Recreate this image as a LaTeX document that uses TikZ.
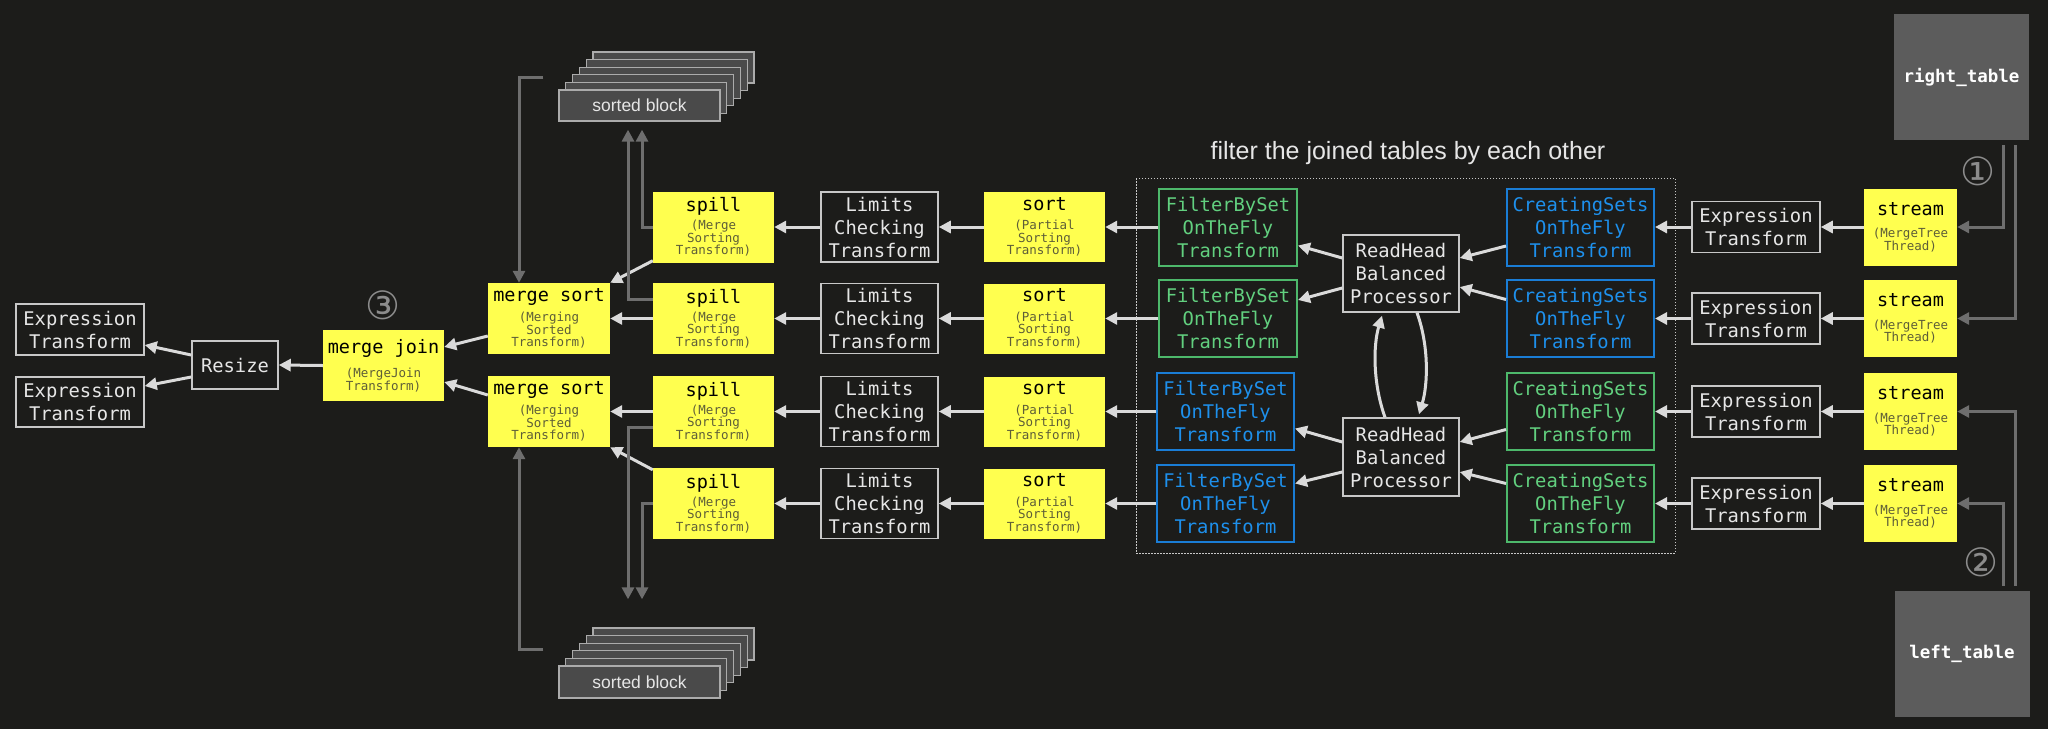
\documentclass[tikz,border=0pt]{standalone}
\usepackage{fontspec}
\setmainfont{Liberation Sans}
\newfontfamily\monof{DejaVu Sans Mono}
\newfontfamily\symf{DejaVu Sans}
\usetikzlibrary{arrows.meta,calc}

\definecolor{bg}{HTML}{1C1C1A}
\definecolor{ybox}{HTML}{FFFF4F}
\definecolor{subc}{HTML}{5E5E38}
\definecolor{wtext}{HTML}{E6E6E6}
\definecolor{wline}{HTML}{C8C8C8}
\definecolor{arrc}{HTML}{DADADA}
\definecolor{gline}{HTML}{6E6E6E}
\definecolor{gtxt}{HTML}{62D07F}
\definecolor{gbord}{HTML}{4DB86B}
\definecolor{btxt}{HTML}{1E90EC}
\definecolor{bbord}{HTML}{1A7DD6}
\definecolor{tblc}{HTML}{5C5C5C}
\definecolor{blkc}{HTML}{4A4A4A}
\definecolor{blkline}{HTML}{ABABAB}
\definecolor{numc}{HTML}{8C8C8C}

\newcommand\ytitle[1]{{\color{black}\fontsize{18.5}{18.5}\selectfont #1}}

\begin{document}
\begin{tikzpicture}[x=1pt,y=-1pt,
  wbox/.style={draw=wline, line width=1.5pt, fill=bg, text=wtext,
    font=\monof\fontsize{18.8}{23}\selectfont, align=center, inner sep=0pt},
  gbox/.style={wbox, draw=gbord, text=gtxt, line width=2pt},
  bbox/.style={wbox, draw=bbord, text=btxt, line width=2pt},
  yelbox/.style={fill=ybox, text=subc, font=\monof\fontsize{12.5}{12.5}\selectfont,
    align=center, inner sep=0pt},
  tblbox/.style={fill=tblc, text=white, font=\monof\bfseries\fontsize{17.5}{20}\selectfont,
    inner sep=0pt, minimum width=135pt, minimum height=126pt},
  blkbox/.style={fill=blkc, draw=blkline, line width=1.3pt, text=wtext,
    font=\fontsize{17.5}{20}\selectfont, inner sep=0pt, minimum width=161pt, minimum height=31pt},
  numst/.style={text=numc, font=\symf\fontsize{39}{39}\selectfont, inner sep=0pt},
  arrow/.style={draw=arrc, line width=3pt, -{Triangle[length=12pt,width=12pt]}},
  garrow/.style={draw=gline, line width=3pt, -{Triangle[length=12pt,width=12pt]}},
  frame/.style={draw=wline, line width=1pt, dash pattern=on 1.5pt off 1.5pt}
]
\fill[bg] (0,0) rectangle (2048,729);
\useasboundingbox (0,0) rectangle (2048,729);

\def\Ra{227}\def\Rb{318.5}\def\Rc{411.5}\def\Rd{503.5}

% left part
\node[wbox, minimum width=128pt, minimum height=51pt] (exl1) at (80,329.5) {Expression\\Transform};
\node[wbox, minimum width=128pt, minimum height=50pt] (exl2) at (80,402) {Expression\\Transform};
\node[wbox, minimum width=86pt, minimum height=48pt] (resize) at (235,365) {Resize};
\node[yelbox, minimum width=121pt, minimum height=71pt] (mj) at (383.5,365.5) {\ytitle{merge join}\\[10pt](MergeJoin\\Transform)};
\node[numst] (n3) at (383,305) {③};

\node[yelbox, minimum width=122pt, minimum height=71pt] (ms1) at (549,318.5) {\ytitle{merge sort}\\[6pt](Merging\\Sorted\\Transform)};
\node[yelbox, minimum width=122pt, minimum height=71pt] (ms2) at (549,411.5) {\ytitle{merge sort}\\[6pt](Merging\\Sorted\\Transform)};

\foreach \n/\r in {1/\Ra,2/\Rb,3/\Rc,4/\Rd}{
  \node[yelbox, minimum width=121pt, minimum height=71pt] (spill\n) at (713.5,\r) {\ytitle{spill}\\[4pt](Merge\\Sorting\\Transform)};
  \node[wbox, minimum width=117pt, minimum height=70pt] (lim\n) at (879.5,\r) {Limits\\Checking\\Transform};
  \node[yelbox, minimum width=121pt, minimum height=70pt] (sort\n) at (1044.5,\r) {\ytitle{sort}\\[7pt](Partial\\Sorting\\Transform)};
  \node[wbox, minimum width=128pt, minimum height=51pt] (exr\n) at (1756,\r) {Expression\\Transform};
  \node[yelbox, minimum width=93pt, minimum height=77pt] (st\n) at (1910.5,\r) {\ytitle{stream}\\[10pt](MergeTree\\Thread)};
}

% sorted block stacks
\foreach \i in {5,4,3,2,1}{
  \node[blkbox] at (639.5+6.8*\i,105.5-7.6*\i) {};
}
\node[blkbox] (sbt) at (639.5,105.5) {sorted block};
\foreach \i in {5,4,3,2,1}{
  \node[blkbox, minimum height=32pt] at (639.5+6.8*\i,682-7.6*\i) {};
}
\node[blkbox, minimum height=32pt] (sbb) at (639.5,682) {sorted block};

% filter region
\draw[frame] (1136,178) rectangle (1675,553);
\node[text=wtext, font=\fontsize{25}{28}\selectfont, inner sep=0pt] (ttl) at (1408,153) {filter the joined tables by each other};

\node[gbox, minimum width=138pt, minimum height=77pt] (filt1) at (1228,\Ra) {FilterBySet\\OnTheFly\\Transform};
\node[gbox, minimum width=138pt, minimum height=77pt] (filt2) at (1228,\Rb) {FilterBySet\\OnTheFly\\Transform};
\node[bbox, minimum width=137pt, minimum height=77pt] (filt3) at (1225.5,\Rc) {FilterBySet\\OnTheFly\\Transform};
\node[bbox, minimum width=137pt, minimum height=77pt] (filt4) at (1225.5,\Rd) {FilterBySet\\OnTheFly\\Transform};

\node[wbox, minimum width=116pt, minimum height=77pt] (rh1) at (1401,273.5) {ReadHead\\Balanced\\Processor};
\node[wbox, minimum width=116pt, minimum height=78pt] (rh2) at (1401,457) {ReadHead\\Balanced\\Processor};

\node[bbox, minimum width=147pt, minimum height=77pt] (cs1) at (1580.5,\Ra) {CreatingSets\\OnTheFly\\Transform};
\node[bbox, minimum width=147pt, minimum height=77pt] (cs2) at (1580.5,\Rb) {CreatingSets\\OnTheFly\\Transform};
\node[gbox, minimum width=147pt, minimum height=77pt] (cs3) at (1580.5,\Rc) {CreatingSets\\OnTheFly\\Transform};
\node[gbox, minimum width=147pt, minimum height=77pt] (cs4) at (1580.5,\Rd) {CreatingSets\\OnTheFly\\Transform};

% tables
\node[tblbox] (rt) at (1961.5,77) {right\_table};
\node[tblbox] (lt) at (1962,654) {left\_table};
\node[numst] (n1) at (1978,171) {①};
\node[numst] (n2) at (1981,562) {②};

% horizontal chains
\foreach \n in {1,2,3,4}{
  \draw[arrow] (st\n.west) -- (exr\n.east);
  \draw[arrow] (exr\n.west) -- (cs\n.east);
  \draw[arrow] (filt\n.west) -- (sort\n.east);
  \draw[arrow] (sort\n.west) -- (lim\n.east);
  \draw[arrow] (lim\n.west) -- (spill\n.east);
}

% readhead connections
\draw[arrow] ($(cs1.west)+(0,19)$) -- ($(rh1.east)+(0,-15.5)$);
\draw[arrow] ($(cs2.west)+(0,-19)$) -- ($(rh1.east)+(0,13.5)$);
\draw[arrow] ($(rh1.west)+(0,-15.5)$) -- ($(filt1.east)+(0,18.5)$);
\draw[arrow] ($(rh1.west)+(0,14.5)$) -- ($(filt2.east)+(0,-18.5)$);
\draw[arrow] ($(cs3.west)+(0,18)$) -- ($(rh2.east)+(0,-15)$);
\draw[arrow] ($(cs4.west)+(0,-20)$) -- ($(rh2.east)+(0,15)$);
\draw[arrow] ($(rh2.west)+(0,-15)$) -- ($(filt3.east)+(0,17)$);
\draw[arrow] ($(rh2.west)+(0,15)$) -- ($(filt4.east)+(0,-20)$);
\draw[arrow] ($(rh2.north)+(-16,0)$) .. controls ($(rh2.north)+(-28,-33)$) and ($(rh1.south)+(-28,33)$) .. ($(rh1.south)+(-19,3)$);
\draw[arrow] ($(rh1.south)+(16,0)$) .. controls ($(rh1.south)+(28,33)$) and ($(rh2.north)+(27,-33)$) .. ($(rh2.north)+(18,-3)$);

% merge part
\draw[arrow] ($(spill1.south west)+(0,-2)$) -- (ms1.north east);
\draw[arrow] (spill2.west) -- (ms1.east);
\draw[arrow] (spill3.west) -- (ms2.east);
\draw[arrow] ($(spill4.north west)+(0,2)$) -- (ms2.south east);
\draw[arrow] ($(ms1.west)+(0,17.5)$) -- ($(mj.east)+(0,-18.5)$);
\draw[arrow] ($(ms2.west)+(0,-16.5)$) -- ($(mj.east)+(0,16.5)$);
\draw[arrow] (mj.west) -- (resize.east);
\draw[arrow] ($(resize.west)+(0,-10)$) -- ($(exl1.east)+(0,15.5)$);
\draw[arrow] ($(resize.west)+(0,12)$) -- ($(exl2.east)+(0,-16)$);

% gray connectors
\draw[garrow] ($(rt.south)+(41.5,5)$) |- (st1.east);
\draw[garrow] ($(rt.south)+(53.5,5)$) |- (st2.east);
\draw[garrow] ($(lt.north)+(53,-5)$) |- (st3.east);
\draw[garrow] ($(lt.north)+(41,-5)$) |- (st4.east);

\draw[garrow] (spill1.west) -| ($(sbt.south)+(2.5,8)$);
\draw[garrow] ($(spill2.north west)+(0,17)$) -| ($(sbt.south)+(-11.5,8)$);
\draw[garrow] ($(spill3.west)+(0,16)$) -| ($(sbb.north)+(-11.5,-66)$);
\draw[garrow] (spill4.west) -| ($(sbb.north)+(2.5,-66)$);
\draw[garrow] ($(sbt.north west)+(-15,-12)$) -| ($(ms1.north)+(-30,0)$);
\draw[garrow] ($(sbb.north west)+(-15,-16)$) -| ($(ms2.south)+(-30,0)$);
\end{tikzpicture}
\end{document}
